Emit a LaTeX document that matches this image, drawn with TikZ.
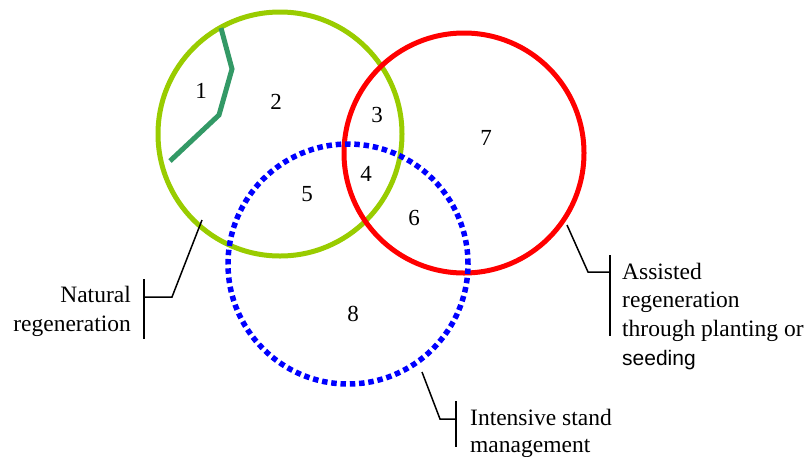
\documentclass[tikz,border=0pt]{standalone}
\usepackage{fontspec}
\setmainfont{Liberation Serif}
\newfontfamily\arialfont{Liberation Sans}
\definecolor{natgreen}{RGB}{153,204,0}
\definecolor{assred}{RGB}{255,0,0}
\definecolor{intblue}{RGB}{0,0,255}
\definecolor{darkgr}{RGB}{51,153,102}
\begin{document}
\begin{tikzpicture}[x=1pt,y=-1pt,
  num/.style={inner sep=0pt, font=\fontsize{23}{28}\selectfont},
  lbl/.style={inner sep=0pt, font=\fontsize{23.5}{28.5}\selectfont},
  call/.style={line width=1.5pt, black},
  ring/.style={circle, minimum size=#1, inner sep=0pt}]
\useasboundingbox (0,0) rectangle (811,456);
% circles
\node[ring=244pt, draw=natgreen, line width=5pt] (nat) at (280,134) {};
\node[ring=240pt, draw=assred, line width=5pt] (ass) at (464,153) {};
\node[ring=240pt, draw=intblue, line width=5.5pt, dash pattern=on 5.5pt off 3.8pt] (int) at (348,264) {};
% dark green polyline
\coordinate (g1) at (221,28);
\coordinate (g2) at (232,69);
\coordinate (g3) at (219,115);
\coordinate (g4) at (170,161);
\draw[line width=5pt, darkgr, line join=miter] (g1) -- (g2) -- (g3) -- (g4);
% numbers
\node[num] (n1) at (201,91) {1};
\node[num] (n2) at (276,102) {2};
\node[num] (n3) at (377,115) {3};
\node[num] (n4) at (366,174) {4};
\node[num] (n5) at (307,194) {5};
\node[num] (n6) at (414,218) {6};
\node[num] (n7) at (486,138) {7};
\node[num] (n8) at (353,314) {8};
% callout: natural
\coordinate (a1) at (202,220);
\coordinate (a2) at (172,297);
\coordinate (a3) at (144,297);
\coordinate (a4) at (144,279);
\coordinate (a5) at (144,339);
\draw[call] (a1) -- (a2) -- (a3);
\draw[call] (a4) -- (a5);
\node[lbl, anchor=base east] (t1a) at (131,302.5) {Natural};
\node[lbl, anchor=base east] (t1b) at (131,331.5) {regeneration};
% callout: assisted
\coordinate (b1) at (567,225);
\coordinate (b2) at (588,272);
\coordinate (b3) at (610,272);
\coordinate (b4) at (610,255);
\coordinate (b5) at (610,336);
\draw[call] (b1) -- (b2) -- (b3);
\draw[call] (b4) -- (b5);
\node[lbl, anchor=base west] (t2a) at (622,279) {Assisted};
\node[lbl, anchor=base west] (t2b) at (622,307.5) {regeneration};
\node[lbl, anchor=base west] (t2c) at (622,336.5) {through planting or};
\node[lbl, anchor=base west, font=\arialfont\fontsize{21}{28}\selectfont] (t2d) at (622,365) {seeding};
% callout: intensive
\coordinate (c1) at (422,372);
\coordinate (c2) at (440,419);
\coordinate (c3) at (456,419);
\coordinate (c4) at (456,401);
\coordinate (c5) at (456,447);
\draw[call] (c1) -- (c2) -- (c3);
\draw[call] (c4) -- (c5);
\node[lbl, anchor=base west] (t3a) at (470,425) {Intensive stand};
\node[lbl, anchor=base west] (t3b) at (470,452) {management};
\end{tikzpicture}
\end{document}
